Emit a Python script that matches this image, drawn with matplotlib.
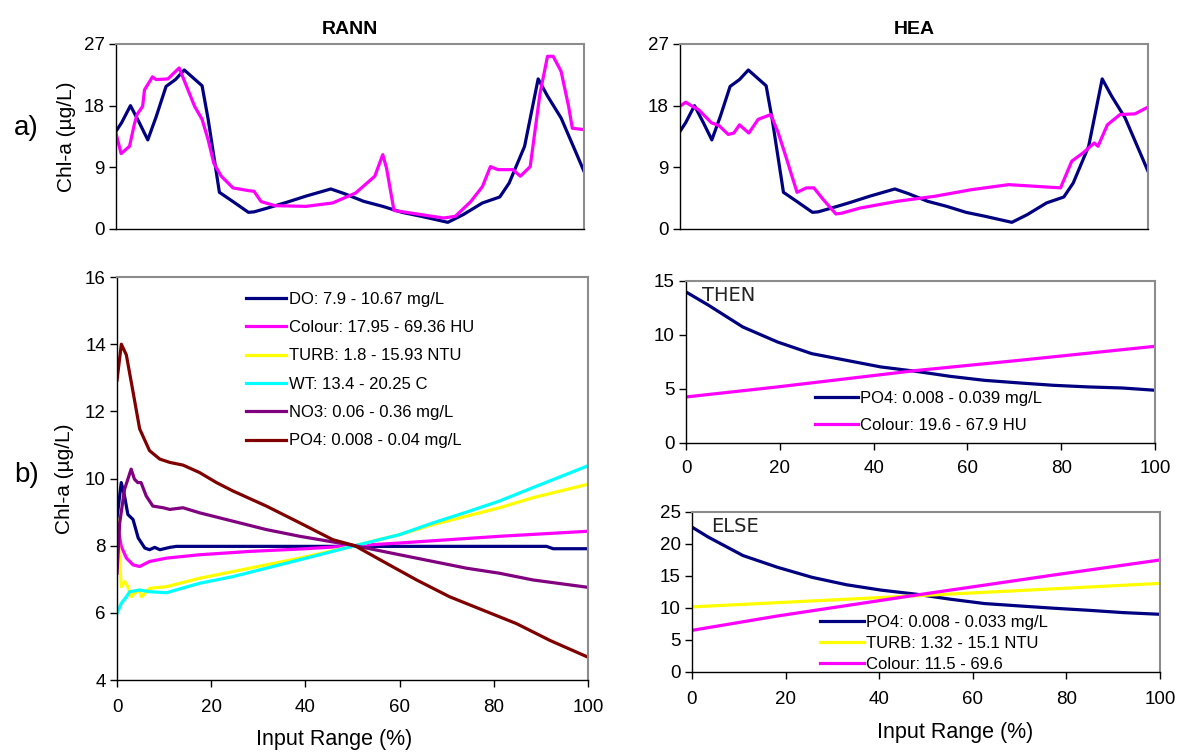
import numpy as np
import matplotlib
matplotlib.use('Agg')
import matplotlib.pyplot as plt
from matplotlib import font_manager

# pick a narrow sans if one is around
names = {f.name for f in font_manager.fontManager.ttflist}
NARROW = 'Liberation Sans Narrow' if 'Liberation Sans Narrow' in names else 'Liberation Sans'
plt.rcParams['font.family'] = [NARROW, 'DejaVu Sans']

# ---- a) observed vs modelled series (x in % of record) ----
obs_x = [0, 1.2, 3.1, 5.0, 6.8, 8.6, 10.7, 12.7, 14.6, 18.4, 19.7, 22.1, 25.0, 28.3, 29.5,
         32.4, 36.5, 40.6, 45.9, 48.8, 52.9, 57.0, 61.1, 65.2, 70.9, 74.2, 78.3, 82.0,
         84.0, 87.3, 90.2, 92.2, 95.1, 98.0, 100]
obs_y = [14.25, 15.5, 18.0, 15.5, 13.0, 16.4, 20.8, 21.8, 23.2, 20.9, 16.0, 5.35, 4.0, 2.43,
         2.5, 3.06, 3.9, 4.8, 5.84, 5.16, 4.04, 3.3, 2.43, 1.85, 0.97, 2.1, 3.8, 4.67,
         6.7, 12.06, 21.9, 19.4, 16.2, 11.6, 8.4]

rann_x = [0, 1.1, 2.9, 3.9, 4.5, 5.7, 6.1, 7.8, 8.6, 11.1, 13.5, 14.8, 16.8, 18.4, 19.7,
          20.9, 22.5, 25.0, 28.3, 29.5, 31.0, 34.0, 40.6, 46.3, 51.2, 55.3, 57.0, 57.8,
          59.4, 65.2, 70.0, 72.5, 75.8, 78.3, 80.0, 81.6, 84.8, 86.4, 88.5, 90.6, 92.2,
          93.4, 95.1, 96.7, 97.5, 100]
rann_y = [14.0, 11.0, 12.07, 15.2, 16.7, 17.9, 20.3, 22.2, 21.8, 21.9, 23.5, 21.3, 17.9,
          16.0, 13.0, 9.6, 7.7, 6.0, 5.6, 5.5, 4.0, 3.4, 3.3, 3.8, 5.25, 7.7, 10.85, 8.9,
          2.7, 2.1, 1.6, 1.85, 4.0, 6.2, 9.1, 8.66, 8.66, 7.7, 9.1, 19.8, 25.2, 25.2, 23.0,
          17.9, 14.7, 14.5]

hea_x = [0, 1.2, 2.4, 4.0, 6.7, 8.3, 10.3, 11.5, 12.7, 14.7, 16.7, 19.4, 21.0, 22.6, 25.0,
         27.0, 28.6, 30.6, 33.3, 34.5, 38.5, 46.4, 54.4, 62.3, 70.2, 81.3, 83.7, 86.1,
         88.5, 89.3, 91.3, 94.0, 97.2, 100]
hea_y = [17.9, 18.5, 18.0, 17.4, 15.5, 15.1, 13.8, 14.0, 15.2, 14.0, 16.0, 16.7, 14.0,
         10.6, 5.35, 6.0, 6.0, 4.3, 2.2, 2.3, 3.06, 4.04, 4.77, 5.74, 6.47, 6.0, 9.9,
         11.1, 12.55, 12.07, 15.2, 16.7, 16.8, 17.8]

# ---- b) RANN sensitivity curves ----
do_x = [0, 0.9, 1.6, 2.3, 3.4, 4.5, 5.9, 6.9, 8.0, 9.1, 11.2, 12.6, 60, 91.2, 92.6, 100]
do_y = [8.83, 9.88, 9.48, 8.93, 8.78, 8.23, 7.93, 7.88, 7.95, 7.88, 7.95, 7.98, 7.98, 7.98,
        7.91, 7.91]
col_x = [0, 0.9, 2.0, 3.4, 4.8, 6.9, 10.5, 17.5, 28.2, 38.8, 50.5, 60, 70.6, 81.2, 100]
col_y = [8.68, 7.98, 7.63, 7.43, 7.38, 7.53, 7.63, 7.73, 7.83, 7.9, 8.0, 8.08, 8.18, 8.28,
         8.43]
turb_x = [0, 0.57, 0.9, 1.6, 2.3, 3.0, 3.7, 4.8, 5.2, 6.9, 10.5, 17.5, 24.6, 31.7, 38.8,
          50.5, 60, 67.1, 74.2, 81.2, 88.3, 100]
turb_y = [8.78, 7.48, 6.78, 6.93, 6.78, 6.48, 6.58, 6.68, 6.48, 6.73, 6.78, 7.03, 7.23,
          7.43, 7.63, 8.0, 8.33, 8.63, 8.88, 9.13, 9.43, 9.83]
wt_x = [0, 0.9, 2.0, 2.7, 4.8, 6.9, 10.5, 17.5, 24.6, 31.7, 38.8, 50.5, 60, 67.1, 74.2,
        81.2, 88.3, 100]
wt_y = [5.98, 6.28, 6.48, 6.63, 6.68, 6.63, 6.6, 6.88, 7.08, 7.33, 7.58, 8.0, 8.33, 8.68,
        9.0, 9.33, 9.73, 10.38]
no3_x = [0, 0.57, 1.6, 3.0, 3.7, 4.4, 5.1, 6.2, 7.6, 9.8, 11.2, 14.0, 17.5, 24.6, 31.7,
         38.8, 50.5, 60, 67.1, 74.2, 81.2, 88.3, 100]
no3_y = [7.18, 8.68, 9.68, 10.28, 9.98, 9.88, 9.88, 9.48, 9.18, 9.13, 9.08, 9.13, 8.98,
         8.73, 8.48, 8.28, 8.0, 7.73, 7.53, 7.33, 7.18, 6.98, 6.76]
po4_x = [0, 0.92, 1.98, 3.4, 4.8, 6.9, 9.06, 11.2, 14.0, 17.5, 21.1, 24.6, 31.7, 38.8,
         45.8, 50.5, 56.5, 63.6, 70.6, 77.7, 84.8, 91.9, 100]
po4_y = [12.93, 14.0, 13.68, 12.58, 11.48, 10.83, 10.58, 10.48, 10.4, 10.18, 9.88, 9.63,
         9.18, 8.68, 8.18, 8.0, 7.53, 6.98, 6.48, 6.08, 5.68, 5.18, 4.68]

# ---- HEA THEN / ELSE rule curves ----
then_po4_x = [0, 4.8, 12.1, 19.5, 26.8, 34.2, 41.5, 48.9, 56.3, 63.6, 71, 78.3, 85.7, 93, 100]
then_po4_y = [13.98, 12.75, 10.74, 9.35, 8.27, 7.65, 7.04, 6.64, 6.17, 5.8, 5.56, 5.34,
              5.19, 5.09, 4.88]
then_col_x = [0, 19.5, 48.9, 71, 100]
then_col_y = [4.26, 5.19, 6.7, 7.65, 8.95]

else_po4_x = [0, 3.5, 10.9, 18.3, 25.7, 33.0, 40.4, 47.8, 55.2, 62.5, 69.9, 77.3, 84.7, 92.0, 100]
else_po4_y = [22.64, 21.07, 18.19, 16.35, 14.78, 13.63, 12.79, 12.16, 11.37, 10.69, 10.32,
              9.96, 9.64, 9.28, 9.01]
else_turb_x = [0, 47.8, 100]
else_turb_y = [10.17, 11.9, 13.84]
else_col_x = [0, 18.3, 47.8, 77.3, 100]
else_col_y = [6.5, 8.75, 12.0, 15.15, 17.5]

NAVY, MAG, YEL, CYAN, PURP, MAROON = '#000080', '#ff00ff', '#ffff00', '#00ffff', '#800080', '#800000'
LW = 2.3
TICK_FS = 13.5


def style(ax):
    for s in ('top', 'right'):
        ax.spines[s].set_color('#8c8c8c')
        ax.spines[s].set_linewidth(1.5)
    for s in ('left', 'bottom'):
        ax.spines[s].set_color('black')
        ax.spines[s].set_linewidth(1.0)
    ax.tick_params(direction='out', length=5, width=1, labelsize=TICK_FS, pad=3)


fig = plt.figure(figsize=(11.82, 7.54), dpi=100)

ax1 = fig.add_axes([0.0981, 0.6963, 0.396, 0.2454])
ax2 = fig.add_axes([0.5753, 0.6963, 0.396, 0.2454])
ax3 = fig.add_axes([0.0990, 0.0981, 0.3985, 0.5345])
ax4 = fig.add_axes([0.5804, 0.4125, 0.3968, 0.2149])
ax5 = fig.add_axes([0.5854, 0.1088, 0.3960, 0.2122])

# top row
for ax, mod_x, mod_y, title in [(ax1, rann_x, rann_y, 'RANN'), (ax2, hea_x, hea_y, 'HEA')]:
    ax.plot(obs_x, obs_y, color=NAVY, lw=LW)
    ax.plot(mod_x, mod_y, color=MAG, lw=LW)
    ax.set_xlim(0, 100)
    ax.set_ylim(0, 27)
    ax.set_yticks([0, 9, 18, 27])
    ax.set_xticks([])
    style(ax)
    ax.set_title(title, fontsize=14, fontweight='bold', pad=7)
ax1.set_ylabel('Chl-a (µg/L)', fontsize=15, labelpad=6)

# sensitivity curves
ax3.plot(do_x, do_y, color=NAVY, lw=LW, label='DO: 7.9 - 10.67 mg/L')
ax3.plot(col_x, col_y, color=MAG, lw=LW, label='Colour: 17.95 - 69.36 HU')
ax3.plot(turb_x, turb_y, color=YEL, lw=LW, label='TURB: 1.8 - 15.93 NTU')
ax3.plot(wt_x, wt_y, color=CYAN, lw=LW, label='WT: 13.4 - 20.25 C')
ax3.plot(no3_x, no3_y, color=PURP, lw=LW, label='NO3: 0.06 - 0.36 mg/L')
ax3.plot(po4_x, po4_y, color=MAROON, lw=LW, label='PO4: 0.008 - 0.04 mg/L')
ax3.set_xlim(0, 100)
ax3.set_ylim(4, 16)
ax3.set_yticks(range(4, 17, 2))
ax3.set_xticks(range(0, 101, 20))
style(ax3)
ax3.tick_params(axis='x', pad=9)
ax3.set_ylabel('Chl-a (µg/L)', fontsize=15, labelpad=8)
ax3.set_xlabel('Input Range (%)', fontsize=15.5)
ax3.xaxis.set_label_coords(0.46, -0.122)
ax3.legend(loc='upper left', bbox_to_anchor=(0.26, 0.98), frameon=False, fontsize=12,
           handlelength=2.4, handletextpad=0.15, labelspacing=0.8, borderaxespad=0)

# THEN rule
ax4.plot(then_po4_x, then_po4_y, color=NAVY, lw=LW, label='PO4: 0.008 - 0.039 mg/L')
ax4.plot(then_col_x, then_col_y, color=MAG, lw=LW, label='Colour: 19.6 - 67.9 HU')
ax4.set_xlim(0, 100)
ax4.set_ylim(0, 15)
ax4.set_yticks([0, 5, 10, 15])
ax4.set_xticks(range(0, 101, 20))
style(ax4)
ax4.tick_params(axis='x', pad=7)
ax4.text(0.035, 0.97, 'THEN', transform=ax4.transAxes, fontsize=14, va='top',
         family='DejaVu Sans', color='#222222')
ax4.legend(loc='upper left', bbox_to_anchor=(0.26, 0.36), frameon=False, fontsize=12,
           handlelength=2.6, handletextpad=0.15, labelspacing=0.7, borderaxespad=0)

# ELSE rule
ax5.plot(else_po4_x, else_po4_y, color=NAVY, lw=LW, label='PO4: 0.008 - 0.033 mg/L')
ax5.plot(else_turb_x, else_turb_y, color=YEL, lw=LW, label='TURB: 1.32 - 15.1 NTU')
ax5.plot(else_col_x, else_col_y, color=MAG, lw=LW, label='Colour: 11.5 - 69.6')
ax5.set_xlim(0, 100)
ax5.set_ylim(0, 25)
ax5.set_yticks(range(0, 26, 5))
ax5.set_xticks(range(0, 101, 20))
style(ax5)
ax5.tick_params(axis='x', pad=9)
ax5.text(0.04, 0.97, 'ELSE', transform=ax5.transAxes, fontsize=14, va='top',
         family='DejaVu Sans', color='#222222')
ax5.set_xlabel('Input Range (%)', fontsize=15.5)
ax5.xaxis.set_label_coords(0.562, -0.31)
ax5.legend(loc='upper left', bbox_to_anchor=(0.26, 0.40), frameon=False, fontsize=12,
           handlelength=2.6, handletextpad=0.15, labelspacing=0.36, borderaxespad=0)

# panel letters
fig.text(0.012, 0.83, 'a)', fontsize=20, va='center')
fig.text(0.012, 0.37, 'b)', fontsize=20, va='center')

fig.savefig('out.png', dpi=100)
